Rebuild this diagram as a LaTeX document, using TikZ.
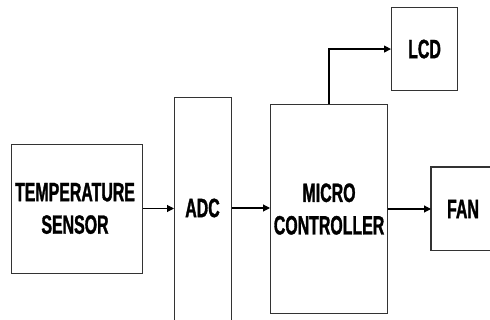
\documentclass[tikz,border=0pt]{standalone}
\usepackage{fontspec}
\newfontfamily\dfont{Liberation Sans}[FakeStretch=0.6,FakeBold=1.2]
\usetikzlibrary{arrows.meta}
\begin{document}
\begin{tikzpicture}[x=1pt,y=-1pt,
  box/.style={draw=black!80, line width=1.1pt, inner sep=0pt, anchor=north west},
  line/.style={draw=black!80, line width=1.1pt},
  lbl/.style={font=\dfont\bfseries\fontsize{26.5}{32.5}\selectfont, align=center, inner sep=0pt},
  conn/.style={draw=black, line width=1.1pt, -{Triangle[length=7pt,width=7pt]}}]
\useasboundingbox (0,0) rectangle (490,320);
\clip (0,0) rectangle (490,320);
\node[box, minimum width=131pt, minimum height=129pt] (ts) at (11,144) {};
\node[lbl] (tst) at (75,208.5) {TEMPERATURE\\SENSOR};
\node[box, minimum width=57pt, minimum height=240pt] (adc) at (174,97) {};
\node[lbl] (adct) at (202.5,208) {ADC};
\node[box, minimum width=117pt, minimum height=209pt] (mc) at (270,104) {};
\node[lbl] (mct) at (mc.center) {MICRO\\CONTROLLER};
\node[box, minimum width=66pt, minimum height=83pt] (lcd) at (391,7) {};
\node[lbl] (lcdt) at (lcd.center) {LCD};
\node[inner sep=0pt, minimum width=90pt, minimum height=83pt, anchor=north west] (fan) at (431,167) {};
\path[line] (fan.north east) -- (fan.north west) -- (fan.south west) -- (fan.south east);
\node[lbl] (fant) at (463,209) {FAN};
\coordinate (up) at (329,104);
\path[conn] (ts.east |- 0,208.5) -- (adc.west |- 0,208.5);
\path[conn] (adc.east |- 0,208) -- (mc.west |- 0,208);
\path[conn] (mc.east |- 0,209) -- (fan.west |- 0,209);
\path[conn] (up) |- (lcd.west);
\end{tikzpicture}
\end{document}
